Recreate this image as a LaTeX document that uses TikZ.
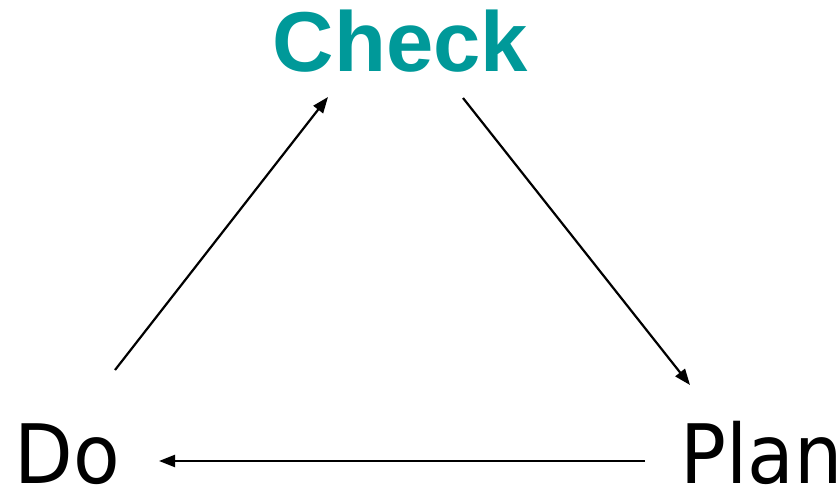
\documentclass[tikz,border=0pt]{standalone}
\usepackage{fontspec}
\usetikzlibrary{arrows.meta}
\newfontfamily\checkfont{Liberation Sans}
\newfontfamily\labelfont[FakeStretch=0.93]{DejaVu Sans}
\definecolor{checkteal}{RGB}{0,153,153}
\begin{document}
\begin{tikzpicture}[x=1pt,y=-1pt,
  lbl/.style={inner sep=0pt,anchor=base,font=\labelfont\fontsize{82}{82}\selectfont},
  chk/.style={inner sep=0pt,anchor=base,text=checkteal,font=\checkfont\bfseries\fontsize{85}{85}\selectfont},
  conn/.style={line width=2.2pt,-{Triangle[length=16pt,width=12pt]}}]
\useasboundingbox (0,0) rectangle (840,488);
\node[chk] (check) at (400.5,71) {Check};
\node[lbl] (do) at (67.5,483) {Do};
\node[lbl] (plan) at (761.5,483) {Plan};
\coordinate (doOut) at (115,370);
\coordinate (checkIn) at (328,97);
\coordinate (checkOut) at (463,98);
\coordinate (planIn) at (690,385);
\coordinate (planOut) at (645,461);
\coordinate (doIn) at (159,461);
\draw[conn] (doOut) -- (checkIn);
\draw[conn] (checkOut) -- (planIn);
\draw[conn] (planOut) -- (doIn);
\end{tikzpicture}
\end{document}
